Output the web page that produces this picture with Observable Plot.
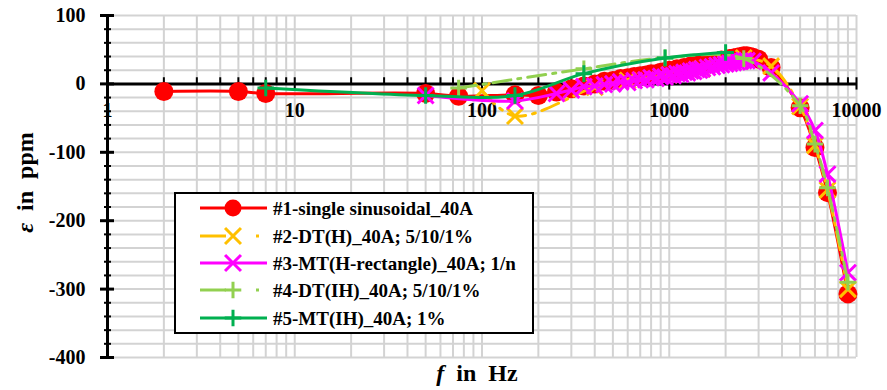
<!DOCTYPE html>
<html><head><meta charset="utf-8">
<script src="https://cdn.jsdelivr.net/npm/d3@7"></script>
<script src="https://cdn.jsdelivr.net/npm/@observablehq/plot@0.6"></script>
<style>
body{margin:0;background:#fff;}
#wrap{position:relative;width:887px;height:390px;overflow:hidden;}
</style></head><body><div id="wrap"></div>
<script>
// ---------- data ----------
// #1 single sinusoidal
const f1 = [2,5,7,50,75,150,200,250,300,350,400,450,500,550,600,650,700,750,800,850,900,950,1000,1050,1100,1150,1200,1250,1300,1350,1400,1450,1500,1600,1700,1800,1900,2000,2100,2200,2300,2400,2500,2600,2700,2800,3000,3500,5000,6000,7000,9000];
const v1 = [-11,-11,-14,-14,-18,-16,-17,-12,-7,-3,0,4,5,8,9,11,12,13,15,15,17,18,20,19,22,21,24,23,26,25,28,27,29,30,32,33,35,35,37,38,39,40,41,41,40,39,36,24,-35,-93,-159,-307];
// #2 DT(H)
const f2 = [100,150,400,600,1000,1500,2000,2500,3500,5000,6000,7000,9000];
const v2 = [-10,-47,-5,5,13,22,31,38,26,-33,-90,-155,-300];
// #3 MT(H-rectangle)
const f3 = [50,150,250,300,350,400,450,500,550,600,650,700,750,800,850,900,950,1000,1050,1100,1150,1200,1250,1300,1350,1400,1450,1500,1600,1700,1800,1900,2000,2100,2200,2300,2400,2500,2600,2800,3500,5000,6000,7000,9000];
const v3 = [-17,-25,-14,-9,-4,-3,-1,0,3,2,5,6,6,9,8,11,10,13,12,15,14,17,16,19,18,21,20,22,24,25,27,28,29,30,31,32,33,34,34,33,16,-29,-68,-132,-276];
// #4 DT(IH)
const f4 = [75,350,950,2500,5000,6000,7000,9000];
const v4 = [-6,22,38,37,-32,-88,-152,-290];
// #5 MT(IH)
const f5 = [7,50,150,350,950,2000];
const v5 = [-6,-17,-17,15,38,46];

const names = ["#1-single sinusoidal_40A","#2-DT(H)_40A; 5/10/1%","#3-MT(H-rectangle)_40A; 1/n","#4-DT(IH)_40A; 5/10/1%","#5-MT(IH)_40A; 1%"];
const colors = ["#ff0000","#ffc000","#ff00ff","#92d050","#00b050"];
const symbols = ["circle","times","times","plus","plus"];
const dashes = [null,"18,7,3,7",null,"18,7,3,7",null];

const xLabels = ["1","10","100","1000","10000"];
const xMajor = [1,10,100,1000,10000];
const yLabels = ["-400","-300","-200","-100","0","100"];
const yMajor = [-400,-300,-200,-100,0,100];

// ---------- build ----------
const xGrid = [];
for (const p of [1,10,100,1000]) for (let k = 1; k < 10; k++) xGrid.push(k * p);
xGrid.push(10000);
const xMinor = xGrid.filter(d => !xMajor.includes(d));
const yGrid = d3.range(-400, 101, 20);
const yMinor = yGrid.filter(d => d % 100 !== 0);

const series = [[f1,v1],[f2,v2],[f3,v3],[f4,v4],[f5,v5]].map(([f,v]) => f.map((x,i) => ({f: x, v: v[i]})));

const symR = {circle: 9.5, times: 7.3, plus: 5.4};
const seriesMarks = [];
series.forEach((data, k) => {
  seriesMarks.push(Plot.line(data, {x: "f", y: "v", stroke: colors[k], strokeWidth: 3, curve: "catmull-rom", strokeDasharray: dashes[k] || undefined}));
  if (symbols[k] === "circle") {
    seriesMarks.push(Plot.dot(data, {x: "f", y: "v", r: symR.circle, fill: colors[k], stroke: "none"}));
  } else {
    seriesMarks.push(Plot.dot(data, {x: "f", y: "v", r: symR[symbols[k]], symbol: symbols[k], stroke: colors[k], strokeWidth: 3, fill: "none"}));
  }
});

const font = "'Liberation Serif','Times New Roman',serif";
const chart = Plot.plot({
  width: 887, height: 390,
  marginLeft: 107, marginRight: 31, marginTop: 15, marginBottom: 33,
  x: {type: "log", domain: [1, 10000], axis: null},
  y: {domain: [-400, 100], axis: null},
  style: {fontFamily: font, background: "#fff", color: "#000"},
  marks: [
    Plot.ruleX(xGrid, {stroke: "#d3d3d3", strokeWidth: 2}),
    Plot.ruleY(yGrid, {stroke: "#d3d3d3", strokeWidth: 2}),
    Plot.ruleY([0], {stroke: "#000", strokeWidth: 3}),
    Plot.ruleX(xMinor, {y1: 0, y2: 9, stroke: "#000", strokeWidth: 2}),
    Plot.ruleX(xMajor, {y1: -9, y2: 9, stroke: "#000", strokeWidth: 2}),
    Plot.ruleX([1], {stroke: "#000", strokeWidth: 3}),
    Plot.ruleY(yMajor, {x1: 1, x2: 1, insetLeft: -7, insetRight: -7, stroke: "#000", strokeWidth: 3}),
    Plot.ruleY(yMinor, {x1: 1, x2: 1, insetLeft: -3, insetRight: -4, stroke: "#000", strokeWidth: 2}),
    Plot.text(yMajor, {x: 1, y: d => d, text: (d, i) => yLabels[i], textAnchor: "end", dx: -22, fontSize: 20, fontWeight: "bold"}),
    Plot.text(xMajor, {x: d => d, y: 0, text: (d, i) => xLabels[i], dy: 27, fontSize: 20, fontWeight: "bold"}),
    Plot.text(["ε in ppm"], {frameAnchor: "left", textAnchor: "middle", lineAnchor: "middle", dx: -82, dy: -4, rotate: -90, fontSize: 24, fontWeight: "bold"}),
    Plot.text(["f in Hz"], {frameAnchor: "bottom", textAnchor: "middle", lineAnchor: "middle", dx: -5, dy: 16, fontSize: 24, fontWeight: "bold"}),
    ...seriesMarks
  ]
});

// italic first symbol in axis titles, wider word spacing
chart.querySelectorAll("text").forEach(t => {
  const s = t.textContent;
  if (s === "ε in ppm" || s === "f in Hz") {
    const first = s[0], rest = s.slice(1);
    t.textContent = "";
    t.setAttribute("word-spacing", "6");
    const a = document.createElementNS("http://www.w3.org/2000/svg", "tspan");
    a.setAttribute("font-style", "italic"); a.textContent = first;
    const b = document.createElementNS("http://www.w3.org/2000/svg", "tspan");
    b.textContent = rest;
    t.appendChild(a); t.appendChild(b);
  }
});
document.getElementById("wrap").appendChild(chart);

// ---------- legend ----------
const leg = d3.select("#wrap").append("svg")
  .attr("width", 360).attr("height", 142)
  .style("position", "absolute").style("left", "174px").style("top", "192px")
  .style("font-family", font);
leg.append("rect").attr("x", 1).attr("y", 1).attr("width", 358).attr("height", 140)
  .attr("fill", "#fff").attr("stroke", "#000").attr("stroke-width", 2);
const rowY = [16, 44, 71, 98, 126];
names.forEach((name, k) => {
  const g = leg.append("g").attr("transform", `translate(0,${rowY[k]})`);
  if (dashes[k]) {
    g.append("line").attr("x1", 26).attr("x2", 52).attr("y1", 0).attr("y2", 0).attr("stroke", colors[k]).attr("stroke-width", 3);
    g.append("line").attr("x1", 82).attr("x2", 85).attr("y1", 0).attr("y2", 0).attr("stroke", colors[k]).attr("stroke-width", 3);
  } else {
    g.append("line").attr("x1", 26).attr("x2", 93).attr("y1", 0).attr("y2", 0).attr("stroke", colors[k]).attr("stroke-width", 3);
  }
  if (symbols[k] === "circle") {
    g.append("circle").attr("cx", 59).attr("cy", 0).attr("r", 8.5).attr("fill", colors[k]);
  } else {
    const sym = symbols[k] === "times" ? d3.symbolTimes : d3.symbolPlus;
    const r = symR[symbols[k]];
    g.append("path").attr("transform", "translate(59,0)")
      .attr("d", d3.symbol(sym, Math.PI * r * r)())
      .attr("fill", "none").attr("stroke", colors[k]).attr("stroke-width", 3);
  }
  g.append("text").attr("x", 99).attr("y", 0).attr("dy", "0.35em")
    .attr("font-size", 19).attr("font-weight", "bold").text(name);
});
</script>
</body></html>
